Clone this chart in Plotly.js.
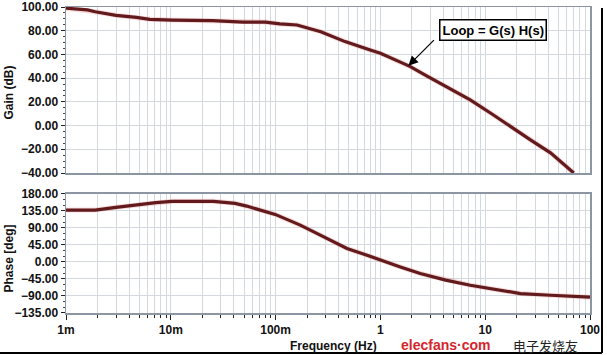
<!DOCTYPE html>
<html>
<head>
<meta charset="utf-8">
<script src="https://cdn.plot.ly/plotly-3.0.1.min.js"></script>
<style>html,body{margin:0;padding:0;background:#fff;}#chart{width:607px;height:355px;}</style>
</head>
<body>
<div id="chart"></div>
<script>
// Gain curve (Hz, dB)
const freqGain = [0.001, 0.0016, 0.0019, 0.003, 0.0047, 0.0063, 0.0103, 0.025, 0.049, 0.08, 0.11, 0.16, 0.27, 0.46, 0.8, 1.0, 1.55, 1.93, 2.68, 4.5, 7.2, 11.5, 17.4, 27, 42, 70];
const gainDb   = [99, 97.5, 96, 93, 91.3, 89.6, 89, 88.5, 87.3, 87.3, 85.7, 84.8, 79.2, 70.8, 63.7, 61, 53.5, 49.7, 42.5, 31.5, 21.6, 10, -0.9, -12, -23, -40];
// Phase curve (Hz, deg)
const freqPhase = [0.001, 0.0019, 0.003, 0.0047, 0.0072, 0.0103, 0.0255, 0.041, 0.053, 0.099, 0.172, 0.267, 0.48, 0.745, 1.0, 1.55, 2.4, 4.2, 7.2, 14, 21.7, 42, 73, 100];
const phaseDeg  = [137.5, 137.5, 144.7, 151.6, 157, 160.5, 160.6, 155.3, 148, 126, 97.7, 71, 36, 18, 4.8, -13, -30.5, -48, -61.5, -74.8, -83.5, -88, -92.5, -93];
// Axis ticks
const decadeVals = [0.001, 0.01, 0.1, 1, 10, 100];
const decadeLabels = ['1m', '10m', '100m', '1', '10', '100'];
const annotationText = 'Loop = G(s) H(s)';

const minorVals = [];
decadeVals.slice(0, -1).forEach(d => { for (let k = 2; k <= 9; k++) minorVals.push(d * k); });

const lineCol = '#621a1c';
const glowCol = 'rgba(220,110,110,0.25)';
const gridCol = '#d4d8df';
const frameCol = '#8c96a2';
const tickFont = {family: 'Liberation Sans, Arial, sans-serif', size: 12, color: '#111', weight: 'bold'};

const traces = [
  {x: freqGain, y: gainDb, xaxis: 'x', yaxis: 'y', mode: 'lines', line: {color: glowCol, width: 5}, hoverinfo: 'skip'},
  {x: freqGain, y: gainDb, xaxis: 'x', yaxis: 'y', mode: 'lines', line: {color: lineCol, width: 3.2}},
  {x: freqPhase, y: phaseDeg, xaxis: 'x2', yaxis: 'y2', mode: 'lines', line: {color: glowCol, width: 5}, hoverinfo: 'skip'},
  {x: freqPhase, y: phaseDeg, xaxis: 'x2', yaxis: 'y2', mode: 'lines', line: {color: lineCol, width: 3.2}}
];

const xCommon = {
  type: 'log', range: [-3, 2], tickvals: decadeVals, ticktext: decadeLabels,
  showgrid: true, gridcolor: gridCol, gridwidth: 1,
  showline: true, mirror: true, linecolor: frameCol, linewidth: 1.5,
  zeroline: false, tickfont: tickFont,
  minor: {tickvals: minorVals, showgrid: true, gridcolor: gridCol, gridwidth: 1}
};
const px = p => (p - 66) / 524;
const py = p => (313 - p) / 306;

const layout = {
  width: 607, height: 355,
  margin: {l: 66, r: 17, t: 7, b: 42},
  paper_bgcolor: '#fff', plot_bgcolor: '#fff',
  showlegend: false,
  font: {family: 'Liberation Sans, Arial, sans-serif'},
  xaxis: Object.assign({}, xCommon, {anchor: 'y', showticklabels: false, ticks: '', matches: 'x2'}),
  xaxis2: Object.assign({}, xCommon, {anchor: 'y2', ticks: 'outside', ticklen: 5, tickcolor: '#222',
    minor: {tickvals: minorVals, ticks: 'outside', ticklen: 3, tickcolor: '#222', showgrid: true, gridcolor: gridCol, gridwidth: 1}}),
  yaxis: {domain: [0.4575, 1], range: [-40, 100], dtick: 20, tickformat: '.2f',
    showgrid: true, gridcolor: gridCol, zeroline: false,
    showline: true, mirror: true, linecolor: frameCol, linewidth: 1.5,
    ticks: 'outside', ticklen: 4, tickcolor: '#222', tickfont: tickFont,
    minor: {dtick: 5, ticks: 'outside', ticklen: 2, tickcolor: '#444', showgrid: false}},
  yaxis2: {domain: [0, 0.3889], range: [-135, 180], dtick: 45, tickformat: '.2f',
    showgrid: true, gridcolor: gridCol, zeroline: false,
    showline: true, mirror: true, linecolor: frameCol, linewidth: 1.5,
    ticks: 'outside', ticklen: 4, tickcolor: '#222', tickfont: tickFont,
    minor: {dtick: 15, ticks: 'outside', ticklen: 2, tickcolor: '#444', showgrid: false}},
  annotations: [
    {xref: 'paper', yref: 'paper', x: px(8.5), y: py(93), xanchor: 'center', yanchor: 'middle', text: 'Gain (dB)', textangle: -90, showarrow: false,
     font: {size: 12, color: '#111', weight: 'bold'}},
    {xref: 'paper', yref: 'paper', x: px(8.5), y: py(259), xanchor: 'center', yanchor: 'middle', text: 'Phase [deg]', textangle: -90, showarrow: false,
     font: {size: 12, color: '#111', weight: 'bold'}},
    {xref: 'paper', yref: 'paper', x: px(333), y: py(346), xanchor: 'center', yanchor: 'middle', text: 'Frequency (Hz)', showarrow: false,
     font: {size: 12, color: '#111', weight: 'bold'}},
    {xref: 'x', yref: 'y', x: Math.log10(1.85), y: 50.5, text: '', showarrow: true, ax: 27, ay: -27,
     arrowhead: 2, arrowsize: 1.6, arrowwidth: 1.2, arrowcolor: '#000'},
    {xref: 'x', yref: 'y', x: Math.log10(11.85), y: 80.2, xanchor: 'center', yanchor: 'middle', text: annotationText, showarrow: false,
     bgcolor: '#fff', bordercolor: '#000', borderwidth: 1.5, borderpad: 2,
     font: {size: 13, color: '#000', weight: 'bold'}},
    {xref: 'paper', yref: 'paper', x: px(445), y: py(345), xanchor: 'center', yanchor: 'middle', text: 'elecfans·com', showarrow: false,
     font: {size: 14, color: '#d4262c', weight: 'bold', family: 'Liberation Sans Narrow, Liberation Sans, Arial'}},
    {xref: 'paper', yref: 'paper', x: px(545), y: py(345), xanchor: 'center', yanchor: 'middle', text: '电子发烧友', showarrow: false,
     font: {size: 13, color: '#222', family: 'Noto Sans CJK SC'}}
  ],
  shapes: [
    {type: 'line', xref: 'paper', yref: 'paper', x0: px(602), x1: px(602), y0: py(8), y1: py(353), line: {color: '#000', width: 2}},
    {type: 'line', xref: 'paper', yref: 'paper', x0: px(0), x1: px(602), y0: py(353), y1: py(353), line: {color: '#000', width: 2}}
  ]
};

Plotly.newPlot('chart', traces, layout, {displayModeBar: false, staticPlot: true});
</script>
</body>
</html>
